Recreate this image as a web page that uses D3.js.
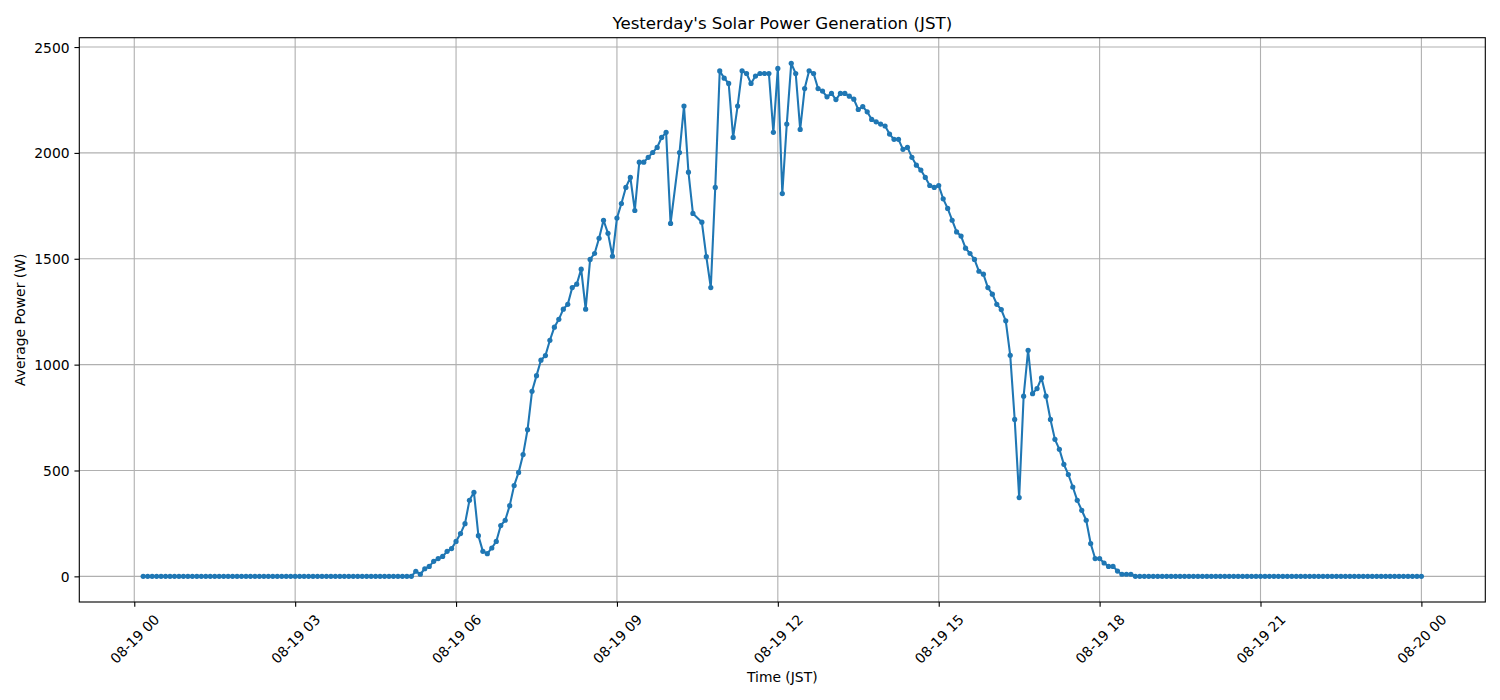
<!DOCTYPE html>
<html>
<head>
<meta charset="utf-8">
<script src="https://cdn.jsdelivr.net/npm/d3@7"></script>
<style>
  html, body { margin: 0; padding: 0; background: #fff; }
  svg { display: block; font-family: "DejaVu Sans", sans-serif; }
</style>
</head>
<body>
<svg id="chart" width="1500" height="700"></svg>
<script>
// ---- data ----
const chartTitle = "Yesterday's Solar Power Generation (JST)";
const xLabel = "Time (JST)";
const yLabel = "Average Power (W)";
const firstTimestamp = "2025-08-19T00:10:00";
const stepMinutes = 5;
// Average power (W) every 5 minutes from 00:10 to 24:00; null = missing sample
const power = [
  /* 00 */ 0,0,0,0,0,0,0,0,0,0,
  /* 01 */ 0,0,0,0,0,0,0,0,0,0,0,0,
  /* 02 */ 0,0,0,0,0,0,0,0,0,0,0,0,
  /* 03 */ 0,0,0,0,0,0,0,0,0,0,0,0,
  /* 04 */ 0,0,0,0,0,0,0,0,0,0,0,0,
  /* 05 */ 0,0,0,24,10,36,47,71,84,94,118,131,
  /* 06 */ 165,202,249,359,397,192,118,107,134,165,240,265,
  /* 07 */ 334,429,491,575,693,874,948,1021,1043,1115,1177,1214,
  /* 08 */ 1262,1285,1364,1380,1451,1262,1497,1525,1597,1682,1620,1512,
  /* 09 */ 1692,1761,1837,1884,1728,1956,1956,1979,2002,2026,2073,2097,
  /* 10 */ 1667,null,2002,2221,1909,1714,null,1673,1510,1364,1837,2387,
  /* 11 */ 2353,2328,2073,2221,2388,2375,2328,2363,2375,2375,2375,2097,
  /* 12 */ 2399,1808,2136,2423,2375,2111,2304,2388,2375,2304,2292,2265,
  /* 13 */ 2281,2252,2281,2281,2268,2254,2205,2219,2194,2158,2147,2136,
  /* 14 */ 2127,2089,2064,2064,2017,2026,1979,1942,1919,1884,1846,1837,
  /* 15 */ 1846,1783,1738,1682,1627,1607,1550,1525,1497,1441,1427,1364,
  /* 16 */ 1333,1285,1260,1207,1044,741,372,851,1068,863,887,937,
  /* 17 */ 851,741,647,600,529,481,422,359,312,265,155,84,
  /* 18 */ 84,63,47,47,25,10,10,10,0,0,0,0,
  /* 19 */ 0,0,0,0,0,0,0,0,0,0,0,0,
  /* 20 */ 0,0,0,0,0,0,0,0,0,0,0,0,
  /* 21 */ 0,0,0,0,0,0,0,0,0,0,0,0,
  /* 22 */ 0,0,0,0,0,0,0,0,0,0,0,0,
  /* 23 */ 0,0,0,0,0,0,0,0,0,0,0,0,
  /* 24 */ 0
];
const xTickLabels = ["2025-08-19T00:00:00","2025-08-19T03:00:00","2025-08-19T06:00:00","2025-08-19T09:00:00",
  "2025-08-19T12:00:00","2025-08-19T15:00:00","2025-08-19T18:00:00","2025-08-19T21:00:00","2025-08-20T00:00:00"];
const yTicks = [0, 500, 1000, 1500, 2000, 2500];

// ---- build ----
const PT = 100 / 72; // matplotlib points -> px at 100 dpi
const t0 = new Date(firstTimestamp);
const points = power.map((v, i) => ({ t: new Date(t0.getTime() + i * stepMinutes * 60000), v }))
  .filter(d => d.v !== null);

const L = 79.3, R = 1485.3, T = 37.7, B = 602;
const svg = d3.select("#chart");

const tExt = d3.extent(points, d => d.t);
const tPad = (tExt[1] - tExt[0]) * 0.05;
const x = d3.scaleTime().domain([new Date(+tExt[0] - tPad), new Date(+tExt[1] + tPad)]).range([L, R]);
const vExt = d3.extent(points, d => d.v);
const vPad = (vExt[1] - vExt[0]) * 0.05;
const y = d3.scaleLinear().domain([vExt[0] - vPad, vExt[1] + vPad]).range([B, T]);

const xTicks = xTickLabels.map(s => new Date(s));
const fmt = d3.timeFormat("%m-%d %H");
const fs = (10 * PT) + "px";

// grid
const grid = svg.append("g");
grid.selectAll("line.gx").data(xTicks).join("line")
  .attr("x1", d => x(d)).attr("x2", d => x(d)).attr("y1", T).attr("y2", B)
  .attr("stroke", "#b0b0b0").attr("stroke-width", 0.8 * PT);
grid.selectAll("line.gy").data(yTicks).join("line")
  .attr("x1", L).attr("x2", R).attr("y1", d => y(d)).attr("y2", d => y(d))
  .attr("stroke", "#b0b0b0").attr("stroke-width", 0.8 * PT);

// line + markers
svg.append("clipPath").attr("id", "clip").append("rect")
  .attr("x", L).attr("y", T).attr("width", R - L).attr("height", B - T);
const plot = svg.append("g").attr("clip-path", "url(#clip)");
plot.append("path").datum(points)
  .attr("fill", "none").attr("stroke", "#1f77b4").attr("stroke-width", 1.5 * PT)
  .attr("stroke-linejoin", "round")
  .attr("d", d3.line().x(d => x(d.t)).y(d => y(d.v)));
plot.selectAll("circle").data(points).join("circle")
  .attr("cx", d => x(d.t)).attr("cy", d => y(d.v)).attr("r", 2.6)
  .attr("fill", "#1f77b4");

// axes
const xAxis = d3.axisBottom(x).tickValues(xTicks).tickFormat(fmt).tickSize(3.5 * PT).tickPadding(3.5 * PT);
const gx = svg.append("g").attr("transform", `translate(0,${B})`).call(xAxis);
const yAxis = d3.axisLeft(y).tickValues(yTicks).tickFormat(d3.format("d")).tickSize(3.5 * PT).tickPadding(3.5 * PT);
const gy = svg.append("g").attr("transform", `translate(${L},0)`).call(yAxis);
[gx, gy].forEach(g => {
  g.select(".domain").remove();
  g.selectAll(".tick line").attr("stroke", "#000").attr("stroke-width", 0.8 * PT);
  g.selectAll("text").attr("font-family", "DejaVu Sans, sans-serif").attr("font-size", fs).attr("fill", "#000");
});
gx.selectAll(".tick text")
  .attr("y", 0).attr("dy", null)
  .attr("text-anchor", "middle").attr("dominant-baseline", "central")
  .attr("transform", "translate(0,37) rotate(-45)");
gy.selectAll(".tick text").attr("dominant-baseline", "central").attr("dy", null);

// frame
svg.append("rect").attr("x", L).attr("y", T).attr("width", R - L).attr("height", B - T)
  .attr("fill", "none").attr("stroke", "#000").attr("stroke-width", 0.8 * PT);

// labels
svg.append("text").attr("x", (L + R) / 2).attr("y", 29).attr("text-anchor", "middle")
  .attr("font-size", (12 * PT) + "px").text(chartTitle);
svg.append("text").attr("x", (L + R) / 2).attr("y", 682).attr("text-anchor", "middle")
  .attr("font-size", fs).text(xLabel);
svg.append("text").attr("transform", `translate(20,${(T + B) / 2}) rotate(-90)`)
  .attr("text-anchor", "middle").attr("dominant-baseline", "central")
  .attr("font-size", fs).text(yLabel);
</script>
</body>
</html>
